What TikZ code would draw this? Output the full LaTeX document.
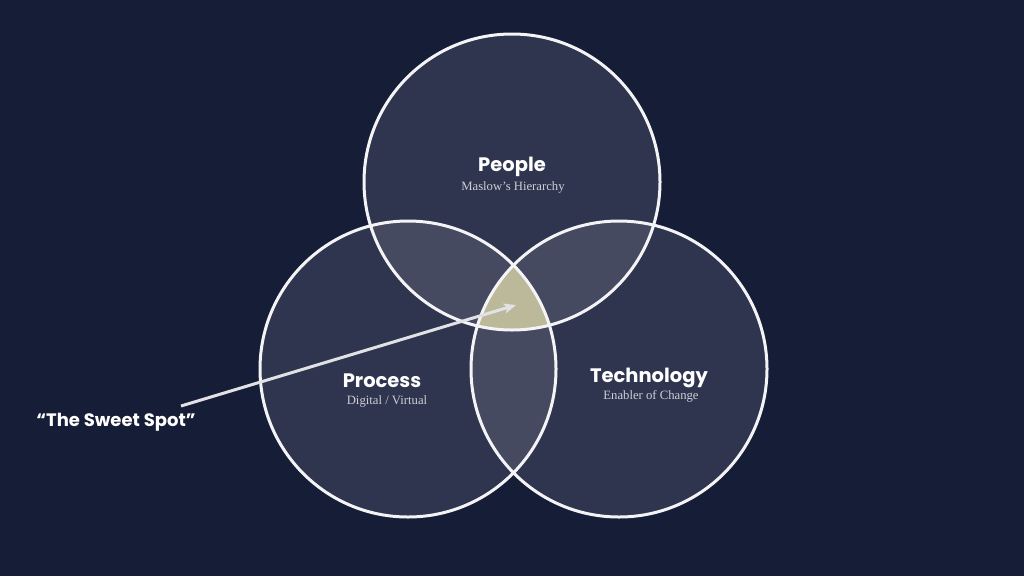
\documentclass[tikz,border=0pt]{standalone}
\usepackage{fontspec}
\setmainfont{Liberation Serif}
\newfontfamily\headfont{Poppins}
\usetikzlibrary{arrows.meta}
\definecolor{bg}{HTML}{161D37}
\definecolor{circfill}{HTML}{30354F}
\definecolor{ovl}{HTML}{464A61}
\definecolor{khaki}{HTML}{BCB99A}
\definecolor{ringc}{HTML}{F4F4F6}
\definecolor{arrowc}{HTML}{E2E2E6}
\definecolor{subc}{HTML}{CDCED6}
\tikzset{
  ring/.style={draw=ringc, line width=3pt},
  title/.style={text=white, font=\headfont\bfseries\fontsize{19.5}{22}\selectfont, inner sep=0pt},
  spotlabel/.style={text=white, font=\headfont\bfseries\fontsize{18}{20}\selectfont, inner sep=0pt},
  sub/.style={text=subc, font=\fontsize{12.7}{14}\selectfont, inner sep=0pt},
  pointer/.style={draw=arrowc, line width=3pt, -{Stealth[length=12pt,width=10pt,inset=3pt]}},
}
\begin{document}
\begin{tikzpicture}[x=1pt,y=-1pt]
\fill[bg] (0,0) rectangle (1024,576);
\useasboundingbox (0,0) rectangle (1024,576);
\coordinate (cP) at (512,182);
\coordinate (cL) at (408,369);
\coordinate (cR) at (619,369);
\fill[circfill] (cP) circle (148);
\fill[circfill] (cL) circle (148);
\fill[circfill] (cR) circle (148);
\begin{scope}
  \clip (cP) circle (148);
  \fill[ovl] (cL) circle (148);
  \fill[ovl] (cR) circle (148);
\end{scope}
\begin{scope}
  \clip (cL) circle (148);
  \fill[ovl] (cR) circle (148);
\end{scope}
\begin{scope}
  \clip (cP) circle (148);
  \clip (cL) circle (148);
  \fill[khaki] (cR) circle (148);
\end{scope}
\draw[ring] (cP) circle (148);
\draw[ring] (cL) circle (148);
\draw[ring] (cR) circle (148);
\coordinate (arrowstart) at (181,406);
\coordinate (sweet) at (516,305);
\draw[pointer] (arrowstart) -- (sweet);
\node[title] (people) at (512,167) {People};
\node[sub] (maslow) at (513,187) {Maslow’s Hierarchy};
\node[title] (process) at (382,381) {Process};
\node[sub] (digital) at (387,401) {Digital / Virtual};
\node[title] (tech) at (649,378) {Technology};
\node[sub] (enabler) at (651,396) {Enabler of Change};
\node[spotlabel] (spot) at (116,422) {“The Sweet Spot”};
\end{tikzpicture}
\end{document}
